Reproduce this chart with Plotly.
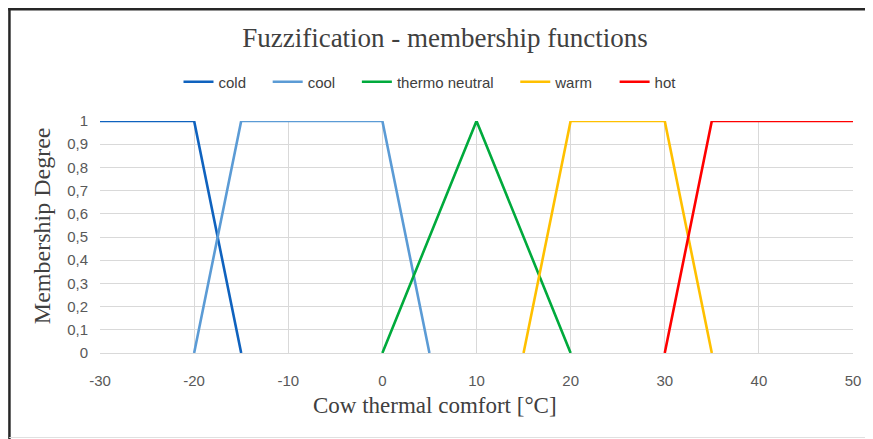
import plotly.graph_objects as go

# Data
cold_x = [-30, -20, -15]
cold_y = [1, 1, 0]
cool_x = [-20, -15, 0, 5]
cool_y = [0, 1, 1, 0]
neutral_x = [0, 10, 20]
neutral_y = [0, 1, 0]
warm_x = [15, 20, 30, 35]
warm_y = [0, 1, 1, 0]
hot_x = [30, 35, 50]
hot_y = [0, 1, 1]

x_ticks = [-30, -20, -10, 0, 10, 20, 30, 40, 50]
y_ticks = [0, 0.1, 0.2, 0.3, 0.4, 0.5, 0.6, 0.7, 0.8, 0.9, 1]
y_ticktext = ["0", "0,1", "0,2", "0,3", "0,4", "0,5", "0,6", "0,7", "0,8", "0,9", "1"]

series_names = ["cold", "cool", "thermo neutral", "warm", "hot"]
series = [
    (series_names[0], cold_x, cold_y, "#0F62BE"),
    (series_names[1], cool_x, cool_y, "#5B9BD5"),
    (series_names[2], neutral_x, neutral_y, "#00AA3C"),
    (series_names[3], warm_x, warm_y, "#FFC000"),
    (series_names[4], hot_x, hot_y, "#FF0000"),
]

fig = go.Figure()
for name, xs, ys, col in series:
    fig.add_trace(go.Scatter(x=xs, y=ys, mode="lines", name=name + "\u00a0" * 4,
                             line=dict(color=col, width=2.6)))

# page body has an 8px margin; work in figure coordinates
OFF = 8
W, H = 873 - OFF, 439 - OFF
L, R, T, B = 100 - OFF, 855 - OFF, 121 - OFF, 353 - OFF
pw, ph = R - L, B - T

def px(x):
    return (x - L) / pw

def py(y):
    return (B - y) / ph

sans = "Liberation Sans, Arial, sans-serif"
serif = "Liberation Serif, Times New Roman, serif"

fig.update_layout(
    width=W, height=H,
    margin=dict(l=L, r=W - R, t=T, b=H - B),
    paper_bgcolor="white", plot_bgcolor="white",
    title=dict(text="Fuzzification - membership functions",
               font=dict(family=serif, size=27, color="#404040"),
               x=(445 - OFF) / W, xref="container", xanchor="center",
               y=1 - (38 - OFF) / H, yref="container", yanchor="middle"),
    legend=dict(orientation="h", x=(438 - OFF) / W, xref="container", xanchor="center",
                y=1 - (82 - OFF) / H, yref="container", yanchor="middle",
                font=dict(family=sans, size=15, color="#404040"),
                itemwidth=30, tracegroupgap=0),
    showlegend=True,
    xaxis=dict(range=[-30, 50], tickvals=x_ticks, ticktext=[str(v) for v in x_ticks],
               showgrid=True, gridcolor="#D9D9D9", gridwidth=1,
               zeroline=False, showline=True, linecolor="#D9D9D9", linewidth=1,
               ticks="", ticklabelstandoff=14,
               tickfont=dict(family=sans, size=15, color="#595959")),
    yaxis=dict(range=[0, 1], tickvals=y_ticks, ticktext=y_ticktext,
               showgrid=True, gridcolor="#D9D9D9", gridwidth=1,
               zeroline=False, showline=False, ticks="",
               ticklabelstandoff=11,
               tickfont=dict(family=sans, size=15, color="#595959")),
    annotations=[
        dict(text="Cow thermal comfort [°C]", xref="paper", yref="paper",
             x=px(436 - OFF), y=py(405 - OFF), xanchor="center", yanchor="middle",
             showarrow=False, font=dict(family=serif, size=23, color="#404040")),
        dict(text="Membership Degree", xref="paper", yref="paper",
             x=px(42 - OFF), y=py(226 - OFF), xanchor="center", yanchor="middle",
             textangle=-90, showarrow=False,
             font=dict(family=serif, size=24, color="#404040")),
    ],
    shapes=[
        dict(type="line", xref="paper", yref="paper", x0=px(0), x1=px(W),
             y0=py(1.2), y1=py(1.2), line=dict(color="#262626", width=2.5)),
        dict(type="line", xref="paper", yref="paper", x0=px(1.2), x1=px(1.2),
             y0=py(0), y1=py(H), line=dict(color="#262626", width=2.5)),
        dict(type="line", xref="paper", yref="paper", x0=px(1), x1=px(W),
             y0=py(H - 1.5), y1=py(H - 1.5), line=dict(color="#E0E0E0", width=1)),
    ],
)

fig.write_html("out.html")
